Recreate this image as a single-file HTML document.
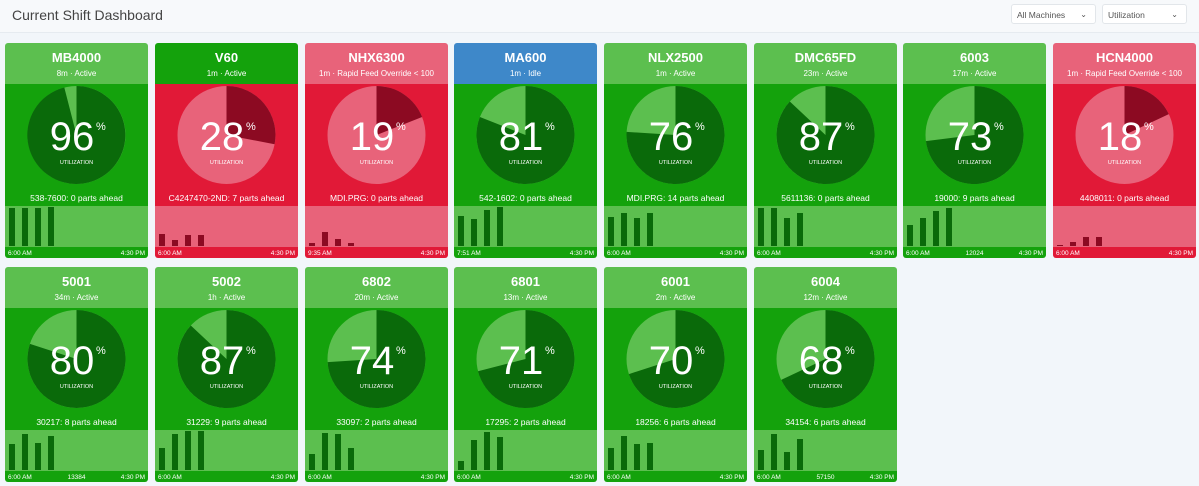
<!DOCTYPE html>
<html><head><meta charset="utf-8"><style>
body{margin:0;width:1199px;height:486px;background:#f2f6fa;font-family:"Liberation Sans",sans-serif;position:relative;overflow:hidden}
.top{position:absolute;left:0;top:0;width:1199px;height:32px;background:#f7f9fb;border-bottom:1px solid #e6ebf0}
.title{position:absolute;left:12px;top:7px;font-size:14px;color:#444}
.sel{position:absolute;top:4px;height:20px;background:#fff;border:1px solid #e2e6ea;border-radius:3px;font-size:8.5px;color:#555;line-height:20px;padding-left:5px;box-sizing:border-box}
.sel span{position:absolute;right:8px;top:0;font-size:8px}
.c{position:absolute;width:143px;height:215px;border-radius:3px;overflow:hidden}
svg text{font-family:"Liberation Sans",sans-serif;fill:#fff}
</style></head><body>
<div class="top"><div class="title">Current Shift Dashboard</div>
<div class="sel" style="left:1011px;width:85px">All Machines<span>⌄</span></div>
<div class="sel" style="left:1102px;width:85px">Utilization<span>⌄</span></div></div>

<!-- Row 1 -->
<div class="c" style="left:5px;top:43px"><svg width="143" height="215">
<rect width="143" height="41" fill="#5cbf4f"/><rect y="41" width="143" height="174" fill="#14a20c"/><rect y="163" width="143" height="41" fill="#5cbf4f"/>
<text x="71.5" y="19" font-size="13" font-weight="bold" text-anchor="middle">MB4000</text><text x="71.5" y="33" font-size="8" text-anchor="middle">8m · Active</text>
<circle cx="71.5" cy="92" r="49" fill="#5cbf4f"/><path d="M71.5 92 L71.5 43 A49 49 0 1 1 59.3 44.5 Z" fill="#0a6a0a"/>
<text x="67" y="107" font-size="40" text-anchor="middle">96</text><text x="91" y="87" font-size="11">%</text><text x="71.5" y="121" font-size="5.5" text-anchor="middle">UTILIZATION</text>
<text x="71.5" y="158" font-size="8.5" text-anchor="middle">538-7600: 0 parts ahead</text>
<g fill="#0a6a0a"><rect x="4" y="165" width="6" height="38"/><rect x="17" y="165" width="6" height="38"/><rect x="30" y="165" width="6" height="38"/><rect x="43" y="164" width="6" height="39"/></g>
<text x="3" y="212" font-size="6.5">6:00 AM</text><text x="140" y="212" font-size="6.5" text-anchor="end">4:30 PM</text></svg></div>

<div class="c" style="left:155px;top:43px"><svg width="143" height="215">
<rect width="143" height="41" fill="#14a20c"/><rect y="41" width="143" height="174" fill="#e11937"/><rect y="163" width="143" height="41" fill="#e8637a"/>
<text x="71.5" y="19" font-size="13" font-weight="bold" text-anchor="middle">V60</text><text x="71.5" y="33" font-size="8" text-anchor="middle">1m · Active</text>
<circle cx="71.5" cy="92" r="49" fill="#e8637a"/><path d="M71.5 92 L71.5 43 A49 49 0 0 1 119.6 101.2 Z" fill="#8c0a22"/>
<text x="67" y="107" font-size="40" text-anchor="middle">28</text><text x="91" y="87" font-size="11">%</text><text x="71.5" y="121" font-size="5.5" text-anchor="middle">UTILIZATION</text>
<text x="71.5" y="158" font-size="8.5" text-anchor="middle">C4247470-2ND: 7 parts ahead</text>
<g fill="#8c0a22"><rect x="4" y="191" width="6" height="12"/><rect x="17" y="197" width="6" height="6"/><rect x="30" y="192" width="6" height="11"/><rect x="43" y="192" width="6" height="11"/></g>
<text x="3" y="212" font-size="6.5">6:00 AM</text><text x="140" y="212" font-size="6.5" text-anchor="end">4:30 PM</text></svg></div>

<div class="c" style="left:305px;top:43px"><svg width="143" height="215">
<rect width="143" height="41" fill="#e8637a"/><rect y="41" width="143" height="174" fill="#e11937"/><rect y="163" width="143" height="41" fill="#e8637a"/>
<text x="71.5" y="19" font-size="13" font-weight="bold" text-anchor="middle">NHX6300</text><text x="71.5" y="33" font-size="8" text-anchor="middle">1m · Rapid Feed Override &lt; 100</text>
<circle cx="71.5" cy="92" r="49" fill="#e8637a"/><path d="M71.5 92 L71.5 43 A49 49 0 0 1 117.1 74 Z" fill="#8c0a22"/>
<text x="67" y="107" font-size="40" text-anchor="middle">19</text><text x="91" y="87" font-size="11">%</text><text x="71.5" y="121" font-size="5.5" text-anchor="middle">UTILIZATION</text>
<text x="71.5" y="158" font-size="8.5" text-anchor="middle">MDI.PRG: 0 parts ahead</text>
<g fill="#8c0a22"><rect x="4" y="200" width="6" height="3"/><rect x="17" y="189" width="6" height="14"/><rect x="30" y="196" width="6" height="7"/><rect x="43" y="200" width="6" height="3"/></g>
<text x="3" y="212" font-size="6.5">9:35 AM</text><text x="140" y="212" font-size="6.5" text-anchor="end">4:30 PM</text></svg></div>

<div class="c" style="left:454px;top:43px"><svg width="143" height="215">
<rect width="143" height="41" fill="#3e88c9"/><rect y="41" width="143" height="174" fill="#14a20c"/><rect y="163" width="143" height="41" fill="#5cbf4f"/>
<text x="71.5" y="19" font-size="13" font-weight="bold" text-anchor="middle">MA600</text><text x="71.5" y="33" font-size="8" text-anchor="middle">1m · Idle</text>
<circle cx="71.5" cy="92" r="49" fill="#5cbf4f"/><path d="M71.5 92 L71.5 43 A49 49 0 1 1 25.9 74 Z" fill="#0a6a0a"/>
<text x="67" y="107" font-size="40" text-anchor="middle">81</text><text x="91" y="87" font-size="11">%</text><text x="71.5" y="121" font-size="5.5" text-anchor="middle">UTILIZATION</text>
<text x="71.5" y="158" font-size="8.5" text-anchor="middle">542-1602: 0 parts ahead</text>
<g fill="#0a6a0a"><rect x="4" y="173" width="6" height="30"/><rect x="17" y="176" width="6" height="27"/><rect x="30" y="167" width="6" height="36"/><rect x="43" y="164" width="6" height="39"/></g>
<text x="3" y="212" font-size="6.5">7:51 AM</text><text x="140" y="212" font-size="6.5" text-anchor="end">4:30 PM</text></svg></div>

<div class="c" style="left:604px;top:43px"><svg width="143" height="215">
<rect width="143" height="41" fill="#5cbf4f"/><rect y="41" width="143" height="174" fill="#14a20c"/><rect y="163" width="143" height="41" fill="#5cbf4f"/>
<text x="71.5" y="19" font-size="13" font-weight="bold" text-anchor="middle">NLX2500</text><text x="71.5" y="33" font-size="8" text-anchor="middle">1m · Active</text>
<circle cx="71.5" cy="92" r="49" fill="#5cbf4f"/><path d="M71.5 92 L71.5 43 A49 49 0 1 1 22.6 88.9 Z" fill="#0a6a0a"/>
<text x="67" y="107" font-size="40" text-anchor="middle">76</text><text x="91" y="87" font-size="11">%</text><text x="71.5" y="121" font-size="5.5" text-anchor="middle">UTILIZATION</text>
<text x="71.5" y="158" font-size="8.5" text-anchor="middle">MDI.PRG: 14 parts ahead</text>
<g fill="#0a6a0a"><rect x="4" y="174" width="6" height="29"/><rect x="17" y="170" width="6" height="33"/><rect x="30" y="175" width="6" height="28"/><rect x="43" y="170" width="6" height="33"/></g>
<text x="3" y="212" font-size="6.5">6:00 AM</text><text x="140" y="212" font-size="6.5" text-anchor="end">4:30 PM</text></svg></div>

<div class="c" style="left:754px;top:43px"><svg width="143" height="215">
<rect width="143" height="41" fill="#5cbf4f"/><rect y="41" width="143" height="174" fill="#14a20c"/><rect y="163" width="143" height="41" fill="#5cbf4f"/>
<text x="71.5" y="19" font-size="13" font-weight="bold" text-anchor="middle">DMC65FD</text><text x="71.5" y="33" font-size="8" text-anchor="middle">23m · Active</text>
<circle cx="71.5" cy="92" r="49" fill="#5cbf4f"/><path d="M71.5 92 L71.5 43 A49 49 0 1 1 35.8 58.5 Z" fill="#0a6a0a"/>
<text x="67" y="107" font-size="40" text-anchor="middle">87</text><text x="91" y="87" font-size="11">%</text><text x="71.5" y="121" font-size="5.5" text-anchor="middle">UTILIZATION</text>
<text x="71.5" y="158" font-size="8.5" text-anchor="middle">5611136: 0 parts ahead</text>
<g fill="#0a6a0a"><rect x="4" y="165" width="6" height="38"/><rect x="17" y="165" width="6" height="38"/><rect x="30" y="175" width="6" height="28"/><rect x="43" y="170" width="6" height="33"/></g>
<text x="3" y="212" font-size="6.5">6:00 AM</text><text x="140" y="212" font-size="6.5" text-anchor="end">4:30 PM</text></svg></div>

<div class="c" style="left:903px;top:43px"><svg width="143" height="215">
<rect width="143" height="41" fill="#5cbf4f"/><rect y="41" width="143" height="174" fill="#14a20c"/><rect y="163" width="143" height="41" fill="#5cbf4f"/>
<text x="71.5" y="19" font-size="13" font-weight="bold" text-anchor="middle">6003</text><text x="71.5" y="33" font-size="8" text-anchor="middle">17m · Active</text>
<circle cx="71.5" cy="92" r="49" fill="#5cbf4f"/><path d="M71.5 92 L71.5 43 A49 49 0 1 1 22.9 98.1 Z" fill="#0a6a0a"/>
<text x="67" y="107" font-size="40" text-anchor="middle">73</text><text x="91" y="87" font-size="11">%</text><text x="71.5" y="121" font-size="5.5" text-anchor="middle">UTILIZATION</text>
<text x="71.5" y="158" font-size="8.5" text-anchor="middle">19000: 9 parts ahead</text>
<g fill="#0a6a0a"><rect x="4" y="182" width="6" height="21"/><rect x="17" y="175" width="6" height="28"/><rect x="30" y="168" width="6" height="35"/><rect x="43" y="165" width="6" height="38"/></g>
<text x="3" y="212" font-size="6.5">6:00 AM</text><text x="71.5" y="212" font-size="6.5" text-anchor="middle">12024</text><text x="140" y="212" font-size="6.5" text-anchor="end">4:30 PM</text></svg></div>

<div class="c" style="left:1053px;top:43px"><svg width="143" height="215">
<rect width="143" height="41" fill="#e8637a"/><rect y="41" width="143" height="174" fill="#e11937"/><rect y="163" width="143" height="41" fill="#e8637a"/>
<text x="71.5" y="19" font-size="13" font-weight="bold" text-anchor="middle">HCN4000</text><text x="71.5" y="33" font-size="8" text-anchor="middle">1m · Rapid Feed Override &lt; 100</text>
<circle cx="71.5" cy="92" r="49" fill="#e8637a"/><path d="M71.5 92 L71.5 43 A49 49 0 0 1 115.8 71.1 Z" fill="#8c0a22"/>
<text x="67" y="107" font-size="40" text-anchor="middle">18</text><text x="91" y="87" font-size="11">%</text><text x="71.5" y="121" font-size="5.5" text-anchor="middle">UTILIZATION</text>
<text x="71.5" y="158" font-size="8.5" text-anchor="middle">4408011: 0 parts ahead</text>
<g fill="#8c0a22"><rect x="4" y="202" width="6" height="1"/><rect x="17" y="199" width="6" height="4"/><rect x="30" y="194" width="6" height="9"/><rect x="43" y="194" width="6" height="9"/></g>
<text x="3" y="212" font-size="6.5">6:00 AM</text><text x="140" y="212" font-size="6.5" text-anchor="end">4:30 PM</text></svg></div>

<!-- Row 2 -->
<div class="c" style="left:5px;top:267px"><svg width="143" height="215">
<rect width="143" height="41" fill="#5cbf4f"/><rect y="41" width="143" height="174" fill="#14a20c"/><rect y="163" width="143" height="41" fill="#5cbf4f"/>
<text x="71.5" y="19" font-size="13" font-weight="bold" text-anchor="middle">5001</text><text x="71.5" y="33" font-size="8" text-anchor="middle">34m · Active</text>
<circle cx="71.5" cy="92" r="49" fill="#5cbf4f"/><path d="M71.5 92 L71.5 43 A49 49 0 1 1 24.9 76.9 Z" fill="#0a6a0a"/>
<text x="67" y="107" font-size="40" text-anchor="middle">80</text><text x="91" y="87" font-size="11">%</text><text x="71.5" y="121" font-size="5.5" text-anchor="middle">UTILIZATION</text>
<text x="71.5" y="158" font-size="8.5" text-anchor="middle">30217: 8 parts ahead</text>
<g fill="#0a6a0a"><rect x="4" y="177" width="6" height="26"/><rect x="17" y="167" width="6" height="36"/><rect x="30" y="176" width="6" height="27"/><rect x="43" y="169" width="6" height="34"/></g>
<text x="3" y="212" font-size="6.5">6:00 AM</text><text x="71.5" y="212" font-size="6.5" text-anchor="middle">13384</text><text x="140" y="212" font-size="6.5" text-anchor="end">4:30 PM</text></svg></div>

<div class="c" style="left:155px;top:267px"><svg width="143" height="215">
<rect width="143" height="41" fill="#5cbf4f"/><rect y="41" width="143" height="174" fill="#14a20c"/><rect y="163" width="143" height="41" fill="#5cbf4f"/>
<text x="71.5" y="19" font-size="13" font-weight="bold" text-anchor="middle">5002</text><text x="71.5" y="33" font-size="8" text-anchor="middle">1h · Active</text>
<circle cx="71.5" cy="92" r="49" fill="#5cbf4f"/><path d="M71.5 92 L71.5 43 A49 49 0 1 1 35.8 58.5 Z" fill="#0a6a0a"/>
<text x="67" y="107" font-size="40" text-anchor="middle">87</text><text x="91" y="87" font-size="11">%</text><text x="71.5" y="121" font-size="5.5" text-anchor="middle">UTILIZATION</text>
<text x="71.5" y="158" font-size="8.5" text-anchor="middle">31229: 9 parts ahead</text>
<g fill="#0a6a0a"><rect x="4" y="181" width="6" height="22"/><rect x="17" y="167" width="6" height="36"/><rect x="30" y="164" width="6" height="39"/><rect x="43" y="164" width="6" height="39"/></g>
<text x="3" y="212" font-size="6.5">6:00 AM</text><text x="140" y="212" font-size="6.5" text-anchor="end">4:30 PM</text></svg></div>

<div class="c" style="left:305px;top:267px"><svg width="143" height="215">
<rect width="143" height="41" fill="#5cbf4f"/><rect y="41" width="143" height="174" fill="#14a20c"/><rect y="163" width="143" height="41" fill="#5cbf4f"/>
<text x="71.5" y="19" font-size="13" font-weight="bold" text-anchor="middle">6802</text><text x="71.5" y="33" font-size="8" text-anchor="middle">20m · Active</text>
<circle cx="71.5" cy="92" r="49" fill="#5cbf4f"/><path d="M71.5 92 L71.5 43 A49 49 0 1 1 22.6 95.1 Z" fill="#0a6a0a"/>
<text x="67" y="107" font-size="40" text-anchor="middle">74</text><text x="91" y="87" font-size="11">%</text><text x="71.5" y="121" font-size="5.5" text-anchor="middle">UTILIZATION</text>
<text x="71.5" y="158" font-size="8.5" text-anchor="middle">33097: 2 parts ahead</text>
<g fill="#0a6a0a"><rect x="4" y="187" width="6" height="16"/><rect x="17" y="166" width="6" height="37"/><rect x="30" y="167" width="6" height="36"/><rect x="43" y="181" width="6" height="22"/></g>
<text x="3" y="212" font-size="6.5">6:00 AM</text><text x="140" y="212" font-size="6.5" text-anchor="end">4:30 PM</text></svg></div>

<div class="c" style="left:454px;top:267px"><svg width="143" height="215">
<rect width="143" height="41" fill="#5cbf4f"/><rect y="41" width="143" height="174" fill="#14a20c"/><rect y="163" width="143" height="41" fill="#5cbf4f"/>
<text x="71.5" y="19" font-size="13" font-weight="bold" text-anchor="middle">6801</text><text x="71.5" y="33" font-size="8" text-anchor="middle">13m · Active</text>
<circle cx="71.5" cy="92" r="49" fill="#5cbf4f"/><path d="M71.5 92 L71.5 43 A49 49 0 1 1 24 104.2 Z" fill="#0a6a0a"/>
<text x="67" y="107" font-size="40" text-anchor="middle">71</text><text x="91" y="87" font-size="11">%</text><text x="71.5" y="121" font-size="5.5" text-anchor="middle">UTILIZATION</text>
<text x="71.5" y="158" font-size="8.5" text-anchor="middle">17295: 2 parts ahead</text>
<g fill="#0a6a0a"><rect x="4" y="194" width="6" height="9"/><rect x="17" y="173" width="6" height="30"/><rect x="30" y="165" width="6" height="38"/><rect x="43" y="170" width="6" height="33"/></g>
<text x="3" y="212" font-size="6.5">6:00 AM</text><text x="140" y="212" font-size="6.5" text-anchor="end">4:30 PM</text></svg></div>

<div class="c" style="left:604px;top:267px"><svg width="143" height="215">
<rect width="143" height="41" fill="#5cbf4f"/><rect y="41" width="143" height="174" fill="#14a20c"/><rect y="163" width="143" height="41" fill="#5cbf4f"/>
<text x="71.5" y="19" font-size="13" font-weight="bold" text-anchor="middle">6001</text><text x="71.5" y="33" font-size="8" text-anchor="middle">2m · Active</text>
<circle cx="71.5" cy="92" r="49" fill="#5cbf4f"/><path d="M71.5 92 L71.5 43 A49 49 0 1 1 24.9 107.1 Z" fill="#0a6a0a"/>
<text x="67" y="107" font-size="40" text-anchor="middle">70</text><text x="91" y="87" font-size="11">%</text><text x="71.5" y="121" font-size="5.5" text-anchor="middle">UTILIZATION</text>
<text x="71.5" y="158" font-size="8.5" text-anchor="middle">18256: 6 parts ahead</text>
<g fill="#0a6a0a"><rect x="4" y="181" width="6" height="22"/><rect x="17" y="169" width="6" height="34"/><rect x="30" y="177" width="6" height="26"/><rect x="43" y="176" width="6" height="27"/></g>
<text x="3" y="212" font-size="6.5">6:00 AM</text><text x="140" y="212" font-size="6.5" text-anchor="end">4:30 PM</text></svg></div>

<div class="c" style="left:754px;top:267px"><svg width="143" height="215">
<rect width="143" height="41" fill="#5cbf4f"/><rect y="41" width="143" height="174" fill="#14a20c"/><rect y="163" width="143" height="41" fill="#5cbf4f"/>
<text x="71.5" y="19" font-size="13" font-weight="bold" text-anchor="middle">6004</text><text x="71.5" y="33" font-size="8" text-anchor="middle">12m · Active</text>
<circle cx="71.5" cy="92" r="49" fill="#5cbf4f"/><path d="M71.5 92 L71.5 43 A49 49 0 1 1 27.2 112.9 Z" fill="#0a6a0a"/>
<text x="67" y="107" font-size="40" text-anchor="middle">68</text><text x="91" y="87" font-size="11">%</text><text x="71.5" y="121" font-size="5.5" text-anchor="middle">UTILIZATION</text>
<text x="71.5" y="158" font-size="8.5" text-anchor="middle">34154: 6 parts ahead</text>
<g fill="#0a6a0a"><rect x="4" y="183" width="6" height="20"/><rect x="17" y="167" width="6" height="36"/><rect x="30" y="185" width="6" height="18"/><rect x="43" y="172" width="6" height="31"/></g>
<text x="3" y="212" font-size="6.5">6:00 AM</text><text x="71.5" y="212" font-size="6.5" text-anchor="middle">57150</text><text x="140" y="212" font-size="6.5" text-anchor="end">4:30 PM</text></svg></div>
</body></html>
